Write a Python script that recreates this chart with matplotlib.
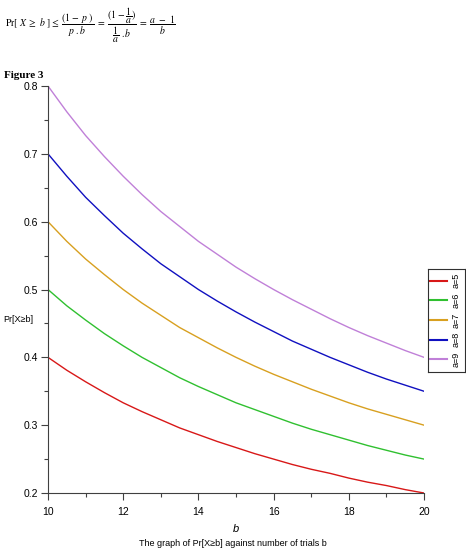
import matplotlib
matplotlib.use("Agg")
import matplotlib.pyplot as plt

b_vals = [10, 10.5, 11, 11.5, 12, 12.5, 13, 13.5, 14, 14.5, 15, 15.5, 16, 16.5, 17, 17.5, 18, 18.5, 19, 19.5, 20]
a5 = [0.400, 0.381, 0.364, 0.348, 0.333, 0.320, 0.308, 0.296, 0.286, 0.276, 0.267, 0.258, 0.250, 0.242, 0.235, 0.229, 0.222, 0.216, 0.211, 0.205, 0.200]
a6 = [0.500, 0.476, 0.455, 0.435, 0.417, 0.400, 0.385, 0.370, 0.357, 0.345, 0.333, 0.323, 0.313, 0.303, 0.294, 0.286, 0.278, 0.270, 0.263, 0.256, 0.250]
a7 = [0.600, 0.571, 0.545, 0.522, 0.500, 0.480, 0.462, 0.444, 0.429, 0.414, 0.400, 0.387, 0.375, 0.364, 0.353, 0.343, 0.333, 0.324, 0.316, 0.308, 0.300]
a8 = [0.700, 0.667, 0.636, 0.609, 0.583, 0.560, 0.538, 0.519, 0.500, 0.483, 0.467, 0.452, 0.438, 0.424, 0.412, 0.400, 0.389, 0.378, 0.368, 0.359, 0.350]
a9 = [0.800, 0.762, 0.727, 0.696, 0.667, 0.640, 0.615, 0.593, 0.571, 0.552, 0.533, 0.516, 0.500, 0.485, 0.471, 0.457, 0.444, 0.432, 0.421, 0.410, 0.400]
series = [a5, a6, a7, a8, a9]
labels = ["a=5", "a=6", "a=7", "a=8", "a=9"]
colors = ["#d81818", "#30c030", "#d8a020", "#1010c0", "#c080d8"]
x_ticks = [10, 12, 14, 16, 18, 20]
y_ticks = [0.2, 0.3, 0.4, 0.5, 0.6, 0.7, 0.8]

fam = ["Liberation Sans", "DejaVu Sans"]
plt.rcParams["mathtext.fontset"] = "stix"

fig = plt.figure(figsize=(4.66, 5.5), dpi=100)
ax = fig.add_axes([0.103, 0.1036, 0.807, 0.74])

for ys, lab, c in zip(series, labels, colors):
    ax.plot(b_vals, ys, color=c, lw=1.0, label=lab)

ax.set_xlim(10, 20)
ax.set_ylim(0.2, 0.8)
ax.set_xticks(x_ticks)
ax.set_yticks(y_ticks)
ax.set_xticks([11, 13, 15, 17, 19], minor=True)
ax.set_yticks([0.25, 0.35, 0.45, 0.55, 0.65, 0.75], minor=True)
ax.set_xticklabels([str(v) for v in x_ticks], fontfamily=fam, fontsize=7.5)
ax.set_yticklabels([str(v) for v in y_ticks], fontfamily=fam, fontsize=7.5)
for s in ["top", "right"]:
    ax.spines[s].set_visible(False)
for s in ["left", "bottom"]:
    ax.spines[s].set_color("#404040")
    ax.spines[s].set_linewidth(0.8)
ax.tick_params(which="major", length=5, width=0.8, color="#404040", pad=2)
ax.tick_params(which="minor", length=3, width=0.8, color="#404040")
ax.tick_params(axis="x", pad=5)

ax.set_xlabel("b", fontstyle="italic", fontfamily=fam, fontsize=8, labelpad=5)
fig.text(0.006, 1 - 320 / 550, "Pr[X≥b]", fontfamily=fam, fontsize=6.5, va="center", ha="left")

# legend box (drawn manually with rotated labels, as in the reference)
lax = fig.add_axes([428 / 466, 1 - 372 / 550, 37 / 466, 103 / 550])
lax.set_xlim(0, 1)
lax.set_ylim(0, 1)
lax.set_xticks([])
lax.set_yticks([])
for s in lax.spines.values():
    s.set_color("#303030")
    s.set_linewidth(0.8)
for i, (lab, c) in enumerate(zip(labels, colors)):
    yy = 1 - (0.115 + i * 0.19)
    lax.plot([0.06, 0.52], [yy, yy], color=c, lw=1.5)
    lax.text(0.75, yy, lab, rotation=90, fontfamily=fam, fontsize=6.5,
             ha="center", va="center")

fig.text(0.5, 1.5 / 550, "The graph of Pr[X≥b] against number of trials b",
         fontfamily=fam, fontsize=6.5, ha="center", va="bottom")

fig.text(0.008, 1 - 75 / 550, "Figure 3", fontfamily=["Liberation Serif", "DejaVu Serif"],
         fontweight="bold", fontsize=8, va="center", ha="left")

formula = (r"$\mathrm{Pr}[\ X\ \geq\ b\ ]\leq\ \dfrac{(1-\ p\ )}{p\ .b}\ =\ "
           r"\dfrac{(1-\dfrac{1}{a})}{\dfrac{1}{a}\ .b}\ =\ \dfrac{a\ -\ 1}{b}$")
fig.text(0.01, 1 - 25 / 550, formula, fontsize=7, va="center", ha="left")

fig.savefig("out.png", dpi=100)
